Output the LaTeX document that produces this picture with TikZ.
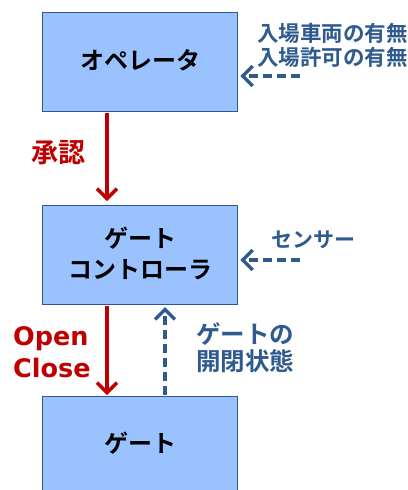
\documentclass[tikz,border=0pt]{standalone}
\usepackage{fontspec}
\setmainfont{Noto Sans CJK JP}[BoldFont={Noto Sans CJK JP Bold}]
\newfontfamily\latinb{DejaVu Sans}[BoldFont={DejaVu Sans Bold}]
\usetikzlibrary{arrows.meta}
\definecolor{boxfill}{HTML}{99C2FF}
\definecolor{boxline}{HTML}{2F5597}
\definecolor{redc}{HTML}{C00000}
\definecolor{bluet}{HTML}{2E5A8E}
\tikzset{
  blk/.style={draw=boxline, line width=1.3pt, fill=boxfill, minimum width=195pt, minimum height=99pt, inner sep=0pt},
  boxtxt/.style={font=\bfseries\fontsize{24}{31}\selectfont, align=center, text=black},
  redarr/.style={draw=redc, line width=3.6pt, -{Straight Barb[length=10pt,width=20pt,line width=3.4pt]}},
  bluearr/.style={draw=bluet, line width=3.6pt, dash pattern=on 9pt off 5pt, -{Straight Barb[length=10pt,width=20pt,line width=3.4pt]}},
  redtxt/.style={text=redc, font=\bfseries\fontsize{27}{32}\selectfont, align=left, inner sep=0pt},
  bluetxt/.style={text=bluet, font=\bfseries\fontsize{21.5}{24}\selectfont, align=left, inner sep=0pt},
}
\begin{document}
\begin{tikzpicture}[x=1pt,y=-1pt]
\useasboundingbox (0,0) rectangle (407,490);
\clip (0,0) rectangle (407,490);
\node[blk, anchor=north west] (op) at (42,12) {};
\node[boxtxt] (optxt) at (140,60) {オペレータ};
\node[blk, anchor=north west] (gc) at (42,205) {};
\node[boxtxt] (gctxt) at (140,253) {ゲート\\コントローラ};
\node[draw=boxline, line width=1.3pt, fill=boxfill, anchor=north west, minimum width=195pt, minimum height=110pt, inner sep=0pt] (gt) at (42,396) {};
\node[boxtxt] (gttxt) at (140,443) {ゲート};
% red arrows
\draw[redarr] (107,113) coordinate (a1s) -- (107,201) coordinate (a1e);
\draw[redarr] (107,306) coordinate (a2s) -- (107,395) coordinate (a2e);
% blue dashed up
\draw[bluearr] (165,395) coordinate (b1s) -- (165,307) coordinate (b1e);
% side arrows
\coordinate (in1) at (300,76);
\draw[bluearr] (in1) -- ([xshift=2pt]op.east |- in1);
\coordinate (in2) at (300,260);
\draw[bluearr] (in2) -- ([xshift=2pt]gc.east |- in2);
% labels
\node[redtxt, anchor=center] (lab1) at (58.5,153) {承認};
\node[redtxt, anchor=west, font=\latinb\bfseries\fontsize{25.5}{32}\selectfont] (lab2) at (13,352) {Open\\Close};
\node[bluetxt, anchor=west] (lab3) at (257,45) {入場車両の有無\\入場許可の有無};
\node[bluetxt, anchor=west, font=\bfseries\fontsize{21}{24}\selectfont] (lab4) at (271,240) {センサー};
\node[bluetxt, anchor=west, font=\bfseries\fontsize{24.5}{27}\selectfont] (lab5) at (196,348) {ゲートの\\開閉状態};
\end{tikzpicture}
\end{document}
